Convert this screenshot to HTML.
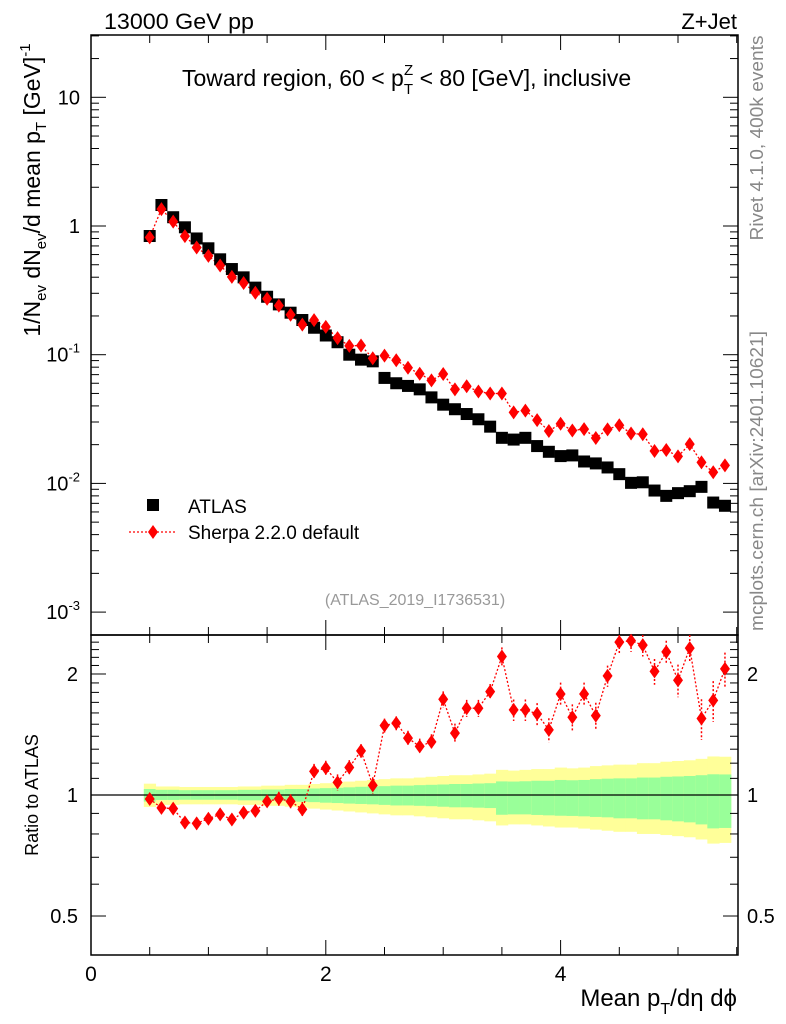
<!DOCTYPE html>
<html><head><meta charset="utf-8"><style>
body{margin:0;background:#fff;}
svg{display:block;font-family:"Liberation Sans",sans-serif;}
</style></head><body>
<svg id="chart" width="786" height="1024" viewBox="0 0 786 1024" xmlns="http://www.w3.org/2000/svg">
<rect width="786" height="1024" fill="#fff"/>
<g id="bands"></g>
<g id="axes"></g>
<g id="marks"></g>
<text x="104" y="29" font-size="22" textLength="150" lengthAdjust="spacingAndGlyphs">13000 GeV pp</text>
<text x="737" y="29" font-size="22" text-anchor="end">Z+Jet</text>
<text x="182" y="86" font-size="23">Toward region, 60 &lt; p<tspan font-size="15" dy="8">T</tspan><tspan font-size="15" dx="-9" dy="-19">Z</tspan><tspan dy="11"> &lt; 80 [GeV], inclusive</tspan></text>
<text transform="translate(40,190) rotate(-90)" font-size="23" text-anchor="middle">1/N<tspan font-size="15" dy="6">ev</tspan><tspan dy="-6"> dN</tspan><tspan font-size="15" dy="6">ev</tspan><tspan dy="-6">/d mean p</tspan><tspan font-size="15" dy="6">T</tspan><tspan dy="-6"> [GeV]</tspan><tspan font-size="15" dy="-10">-1</tspan></text>
<text transform="translate(763,138) rotate(-90)" font-size="18" fill="#888" text-anchor="middle" textLength="205" lengthAdjust="spacingAndGlyphs">Rivet 4.1.0,  400k events</text>
<text transform="translate(763,481) rotate(-90)" font-size="18" fill="#888" text-anchor="middle" textLength="300" lengthAdjust="spacingAndGlyphs">mcplots.cern.ch [arXiv:2401.10621]</text>
<text x="415" y="605" font-size="16" fill="#999" text-anchor="middle">(ATLAS_2019_I1736531)</text>
<g>
<rect x="147" y="499" width="12" height="12" fill="#000"/>
<text x="188" y="513" font-size="19">ATLAS</text>
<line x1="129" y1="532" x2="177" y2="532" stroke="red" stroke-width="1.3" stroke-dasharray="2,2"/>
<path d="M153,525 L158,532 L153,539 L148,532Z" fill="red"/>
<text x="188" y="539" font-size="19">Sherpa 2.2.0 default</text>
</g>
<text transform="translate(38,795) rotate(-90)" font-size="18" text-anchor="middle">Ratio to ATLAS</text>
<text x="737" y="1006" font-size="24" text-anchor="end">Mean p<tspan font-size="16" dy="8">T</tspan><tspan dy="-8">/dη dϕ</tspan></text>
</svg>
<script>
const xCenters=[0.5,0.6,0.7,0.8,0.9,1.0,1.1,1.2,1.3,1.4,1.5,1.6,1.7,1.8,1.9,2.0,2.1,2.2,2.3,2.4,2.5,2.6,2.7,2.8,2.9,3.0,3.1,3.2,3.3,3.4,3.5,3.6,3.7,3.8,3.9,4.0,4.1,4.2,4.3,4.4,4.5,4.6,4.7,4.8,4.9,5.0,5.1,5.2,5.3,5.4];
const atlasValues=[0.836,1.456,1.17,0.977,0.80,0.671,0.551,0.463,0.399,0.332,0.282,0.246,0.212,0.186,0.162,0.141,0.125,0.100,0.0915,0.0888,0.066,0.060,0.0572,0.0538,0.0466,0.0409,0.0377,0.0346,0.0315,0.0276,0.0226,0.0219,0.0226,0.0195,0.0176,0.0163,0.0165,0.0148,0.0143,0.0133,0.0118,0.0101,0.0102,0.0088,0.0080,0.0084,0.0087,0.0094,0.0071,0.0067];
const ratioValues=[0.977,0.929,0.925,0.854,0.85,0.873,0.895,0.869,0.904,0.913,0.964,0.979,0.964,0.921,1.145,1.167,1.075,1.171,1.288,1.057,1.489,1.509,1.385,1.321,1.356,1.73,1.425,1.644,1.644,1.808,2.21,1.628,1.628,1.592,1.452,1.784,1.561,1.784,1.576,1.978,2.40,2.42,2.36,2.03,2.27,1.93,2.32,1.55,1.72,2.06];
const ratioErr=[0.03,0.03,0.03,0.03,0.03,0.03,0.03,0.03,0.03,0.03,0.03,0.04,0.04,0.04,0.05,0.05,0.05,0.05,0.05,0.05,0.06,0.06,0.06,0.06,0.06,0.08,0.08,0.08,0.08,0.08,0.12,0.10,0.10,0.10,0.10,0.12,0.12,0.12,0.12,0.12,0.15,0.15,0.15,0.15,0.15,0.18,0.18,0.18,0.20,0.20];
const yellowUp=[1.067,1.05,1.05,1.047,1.047,1.047,1.047,1.047,1.05,1.05,1.055,1.055,1.06,1.06,1.065,1.07,1.075,1.08,1.085,1.09,1.095,1.10,1.10,1.105,1.11,1.115,1.12,1.12,1.125,1.13,1.155,1.15,1.155,1.16,1.16,1.17,1.165,1.17,1.18,1.185,1.19,1.19,1.2,1.2,1.21,1.215,1.22,1.23,1.247,1.245];
const yellowDn=[0.934,0.945,0.945,0.948,0.948,0.948,0.948,0.948,0.945,0.945,0.94,0.94,0.935,0.93,0.925,0.92,0.915,0.91,0.905,0.90,0.895,0.89,0.89,0.885,0.88,0.875,0.87,0.87,0.865,0.86,0.84,0.845,0.845,0.84,0.835,0.83,0.83,0.825,0.82,0.815,0.81,0.81,0.80,0.80,0.795,0.79,0.785,0.775,0.757,0.76];
const greenUp=[1.035,1.03,1.03,1.028,1.028,1.028,1.028,1.028,1.03,1.03,1.032,1.032,1.035,1.035,1.038,1.04,1.042,1.045,1.048,1.05,1.052,1.055,1.055,1.058,1.06,1.062,1.065,1.065,1.068,1.07,1.081,1.08,1.082,1.085,1.085,1.09,1.088,1.09,1.095,1.098,1.10,1.10,1.105,1.105,1.11,1.112,1.115,1.12,1.126,1.125];
const greenDn=[0.963,0.972,0.972,0.973,0.973,0.973,0.973,0.973,0.97,0.97,0.968,0.968,0.965,0.962,0.96,0.957,0.955,0.952,0.95,0.948,0.945,0.942,0.942,0.94,0.938,0.935,0.932,0.932,0.93,0.928,0.893,0.895,0.895,0.892,0.89,0.888,0.887,0.885,0.882,0.88,0.875,0.875,0.87,0.87,0.865,0.86,0.855,0.845,0.826,0.828];
const mainTickLabels=["10","1","10","10","10"];
const ratioTickVals=[2,1,0.5];
const ratioTickLabels=["2","1","0.5"];
const xTickVals=[0,2,4];
const xTickLabels=["0","2","4"];

const NS="http://www.w3.org/2000/svg";
const L=91,R=738,T=35,MB=635,B=955;
const xs=v=>L+v*117.4;
const ym=v=>226-Math.log10(v)*128.7;
const yr=v=>795-Math.log10(v)*402;
function mk(tag,attrs,parent){const e=document.createElementNS(NS,tag);for(const k in attrs)e.setAttribute(k,attrs[k]);parent.appendChild(e);return e;}
const axes=document.getElementById('axes'),marks=document.getElementById('marks'),bands=document.getElementById('bands');
const hw=0.05;
for(let i=0;i<xCenters.length;i++){
  const x0=xs(xCenters[i]-hw),x1=xs(xCenters[i]+hw)+0.5;
  let r=mk('rect',{x:x0,y:yr(yellowUp[i]),width:x1-x0,height:yr(yellowDn[i])-yr(yellowUp[i]),fill:'#ffff99'},bands);
  
  
  let g=mk('rect',{x:x0,y:yr(greenUp[i]),width:x1-x0,height:yr(greenDn[i])-yr(greenUp[i]),fill:'#99ff99'},bands);
  
  
}
let f1=mk('rect',{x:L,y:T,width:R-L,height:MB-T,fill:'none',stroke:'#000','stroke-width':1.5},axes);


let f2=mk('rect',{x:L,y:MB,width:R-L,height:B-MB,fill:'none',stroke:'#000','stroke-width':1.5},axes);


let one=mk('line',{x1:L,x2:R,y1:yr(1),y2:yr(1),stroke:'#000','stroke-width':1.3},axes);


for(let v=0;v<=5.5;v+=0.5){
  const len=(Math.abs(v%2)<1e-6)?15:8;const x=xs(v);
  for(const [y0,d] of [[B,-1],[MB,-1],[MB,1],[T,1]]){
    let t=mk('line',{x1:x,x2:x,y1:y0,y2:y0+d*len,stroke:'#000','stroke-width':1},axes);
    
    
  }
}
xTickVals.forEach((v,i)=>{let t=mk('text',{x:xs(v),y:981,'font-size':21,'text-anchor':'middle'},axes);t.textContent=xTickLabels[i];
  
  });
for(let e=-3;e<=1;e++){
  for(let m=1;m<=9;m++){const v=m*Math.pow(10,e);const y=ym(v);if(y<T||y>MB)continue;
    const len=m===1?15:8;
    for(const [x0,d] of [[L,1],[R,-1]]){let t=mk('line',{x1:x0,x2:x0+d*len,y1:y,y2:y,stroke:'#000','stroke-width':1},axes);
      
      }
  }
  const y=ym(Math.pow(10,e));
  let t=mk('text',{x:80,y:y+7,'font-size':20,'text-anchor':'end'},axes);
  
  
  t.textContent=mainTickLabels[1-e];
  if(e<0){const s=mk('tspan',{'font-size':13,dy:-9},t);s.textContent=String(e);}
}
for(let k=5;k<=25;k++){const v=k/10;const y=yr(v);const major=(k===5||k===10||k===20);
  for(const [x0,d] of [[L,1],[R,-1]]){let t=mk('line',{x1:x0,x2:x0+d*(major?15:8),y1:y,y2:y,stroke:'#000','stroke-width':1},axes);
    
    }
}
ratioTickVals.forEach((v,i)=>{
  let t=mk('text',{x:78,y:yr(v)+7,'font-size':20,'text-anchor':'end'},axes);t.textContent=ratioTickLabels[i];
  
  
  let t2=mk('text',{x:747,y:yr(v)+7,'font-size':20},axes);t2.textContent=ratioTickLabels[i];
  
  
});
const sherpa=atlasValues.map((v,i)=>v*ratioValues[i]);
let pm=xCenters.map((x,i)=>xs(x)+','+ym(sherpa[i])).join(' ');
let pl=mk('polyline',{points:pm,fill:'none',stroke:'red','stroke-width':1.3,'stroke-dasharray':'2,2'},marks);


xCenters.forEach((x,i)=>{
  const cx=xs(x),cy=ym(atlasValues[i]);
  let s=mk('rect',{x:cx-6,y:cy-6,width:12,height:12,fill:'#000'},marks);
  
  
});
xCenters.forEach((x,i)=>{
  const cx=xs(x),cy=ym(sherpa[i]);
  let d=mk('path',{d:`M${cx},${cy-7}L${cx+5},${cy}L${cx},${cy+7}L${cx-5},${cy}Z`,fill:'red'},marks);
  
  
});
let pr=xCenters.map((x,i)=>xs(x)+','+yr(Math.min(ratioValues[i],2.5))).join(' ');
let rl=mk('polyline',{points:pr,fill:'none',stroke:'red','stroke-width':1.3,'stroke-dasharray':'2,2'},marks);


xCenters.forEach((x,i)=>{
  const cx=xs(x),v=ratioValues[i],e=ratioErr[i];
  const y1=Math.max(yr(Math.min(v+e,2.5)),MB),y2=yr(v-e);
  let eb=mk('line',{x1:cx,x2:cx,y1:y1,y2:y2,stroke:'red','stroke-width':1.5,'stroke-dasharray':'2,2'},marks);
  
  
  const cy=yr(v);
  if(cy<MB)return;
  let d=mk('path',{d:`M${cx},${cy-7}L${cx+5},${cy}L${cx},${cy+7}L${cx-5},${cy}Z`,fill:'red'},marks);
  
  
});
</script>
</body></html>
